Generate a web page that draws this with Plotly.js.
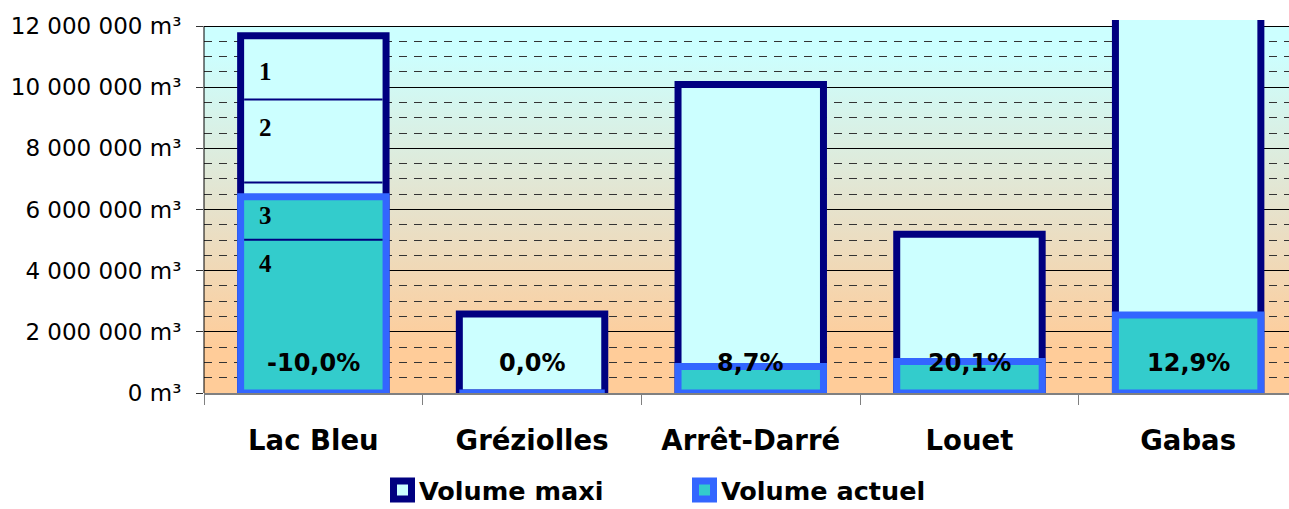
<!DOCTYPE html>
<html>
<head>
<meta charset="utf-8">
<script src="https://cdn.plot.ly/plotly-3.0.1.min.js"></script>
<style>
  html, body { margin: 0; padding: 0; background: #ffffff; overflow: hidden; }
  #chart { width: 1289px; height: 509px; }
</style>
</head>
<body>
<div id="chart"></div>
<script>
// ---- Data ----
const categories = ['Lac Bleu', 'Gréziolles', 'Arrêt-Darré', 'Louet', 'Gabas'];
const volumeMaxi = [11680000, 2580000, 10090000, 5190000, 21000000];
const volumeActuel = [6420000, 0, 870000, 1030000, 2550000];
const evolutionPct = [-10.0, 0.0, 8.7, 20.1, 12.9];
// Lac Bleu zones
const zoneLimits = [9600000, 6880000, 5010000];
const zoneLabels = ['1', '2', '3', '4'];
const zoneLabelValues = [10500000, 8670000, 5790000, 4220000];
const yTickVals = [0, 2000000, 4000000, 6000000, 8000000, 10000000, 12000000];
const yTickText = ['0 m³', '2 000 000 m³', '4 000 000 m³', '6 000 000 m³', '8 000 000 m³', '10 000 000 m³', '12 000 000 m³'];
const seriesNames = ['Volume maxi', 'Volume actuel'];

// ---- Styling ----
const BAR_W = 0.665;
const NAVY = '#000080';
const BLUE = '#3366FF';
const FILLS = ['#CCFFFF', '#33CCCC'];
const LINES = [NAVY, BLUE];
const yTop = 12000000;
const yMax = 12000000 * 373 / 367;
const pctLabelY = 980000;

// plot geometry (px) for paper-referenced legend
const L = 204, PW = 1085, PB = 393, PH = 373;
const px2x = px => (px - L) / PW;
const py2y = py => (PB - py) / PH;

const bgSvg = '<svg xmlns="http://www.w3.org/2000/svg" width="100" height="100" viewBox="0 0 100 100" preserveAspectRatio="none">' +
  '<defs><linearGradient id="g" x1="0" y1="0" x2="0" y2="1">' +
  '<stop offset="0" stop-color="#CCFFFF"/>' +
  '<stop offset="0.07" stop-color="#CCFFFF"/>' +
  '<stop offset="0.5" stop-color="#E6E2CC"/>' +
  '<stop offset="0.88" stop-color="#FFCC99"/>' +
  '<stop offset="1" stop-color="#FFCC99"/>' +
  '</linearGradient></defs><rect x="0" y="0" width="100" height="100" fill="url(#g)"/></svg>';
const bgURI = 'data:image/svg+xml;charset=utf-8,' + encodeURIComponent(bgSvg);

const fmtPct = v => v.toFixed(1).replace('.', ',') + '%';

const traces = [
  {
    type: 'bar', name: seriesNames[0], x: categories, y: volumeMaxi, width: BAR_W,
    marker: { color: FILLS[0], line: { color: LINES[0], width: 7 } },
    hoverinfo: 'skip'
  },
  {
    type: 'bar', name: seriesNames[1], x: categories, y: volumeActuel, width: BAR_W,
    marker: { color: FILLS[1], line: { color: LINES[1], width: 7 } },
    hoverinfo: 'skip'
  }
];

const inset = 3.5 / 218.7;
const shapes = [
  { type: 'line', xref: 'paper', yref: 'y', x0: 0, x1: 0, y0: 0, y1: yTop,
    line: { color: '#000000', width: 1 }, layer: 'above' }
];
zoneLimits.forEach(v => {
  shapes.push({ type: 'line', xref: 'x', yref: 'y',
    x0: 0 - BAR_W / 2 + inset, x1: 0 + BAR_W / 2 - inset, y0: v, y1: v,
    line: { color: NAVY, width: 2 }, layer: 'above' });
});

const annotations = [];
categories.forEach((c, i) => {
  annotations.push({ x: c, y: pctLabelY, xref: 'x', yref: 'y', text: fmtPct(evolutionPct[i]),
    showarrow: false, xanchor: 'center', yanchor: 'middle',
    font: { family: 'DejaVu Sans', weight: 'bold', size: 24, color: '#000000' } });
});
zoneLabels.forEach((t, i) => {
  annotations.push({ x: -0.219, y: zoneLabelValues[i], xref: 'x', yref: 'y', text: t,
    showarrow: false, xanchor: 'center', yanchor: 'middle',
    font: { family: 'Liberation Serif', weight: 'bold', size: 25, color: '#000000' } });
});

// ---- Manual legend (matches the large rounded icons) ----
const legendLeft = [390, 692];
const legendCy = 490;
seriesNames.forEach((n, i) => {
  const x0 = legendLeft[i];
  shapes.push({ type: 'rect', xref: 'paper', yref: 'paper',
    x0: px2x(x0 + 3.5), x1: px2x(x0 + 21.5), y0: py2y(legendCy - 9), y1: py2y(legendCy + 9),
    fillcolor: FILLS[i], line: { color: LINES[i], width: 7 }, layer: 'above' });
  annotations.push({ xref: 'paper', yref: 'paper', x: px2x(x0 + 27), y: py2y(legendCy + 1),
    text: n, showarrow: false, xanchor: 'left', yanchor: 'middle',
    font: { family: 'DejaVu Sans', weight: 'bold', size: 25.5, color: '#000000' } });
});

const layout = {
  width: 1289, height: 509,
  margin: { l: 204, r: 0, t: 20, b: 116, pad: 0 },
  paper_bgcolor: '#ffffff', plot_bgcolor: 'rgba(0,0,0,0)',
  barmode: 'overlay',
  showlegend: false,
  xaxis: {
    type: 'category', range: [-0.5, -0.5 + 1085 / 218.7],
    showgrid: false, zeroline: false,
    showline: true, linecolor: '#808080', linewidth: 2,
    ticks: 'outside', ticklen: 10, tickcolor: '#808080', tickwidth: 1, tickson: 'boundaries',
    tickfont: { family: 'DejaVu Sans', weight: 'bold', size: 27.5, color: '#000000' },
    ticklabelstandoff: 22
  },
  yaxis: {
    range: [0, yMax], tickvals: yTickVals, ticktext: yTickText,
    showgrid: true, gridcolor: '#000000', gridwidth: 1, zeroline: false, showline: false,
    ticks: 'outside', ticklen: 7, tickcolor: '#333333', tickwidth: 1,
    tickfont: { family: 'DejaVu Sans', size: 23, color: '#000000' },
    ticklabelstandoff: 10,
    minor: { dtick: 500000, tick0: 0, showgrid: true, gridcolor: '#333333', gridwidth: 1, griddash: '8px,7px', ticks: '' }
  },
  images: [{ source: bgURI, xref: 'paper', yref: 'y', x: 0, y: yTop, sizex: 1, sizey: yTop,
    sizing: 'stretch', xanchor: 'left', yanchor: 'top', layer: 'below' }],
  shapes: shapes,
  annotations: annotations
};

Plotly.newPlot('chart', traces, layout, { staticPlot: true, displayModeBar: false });
</script>
</body>
</html>
